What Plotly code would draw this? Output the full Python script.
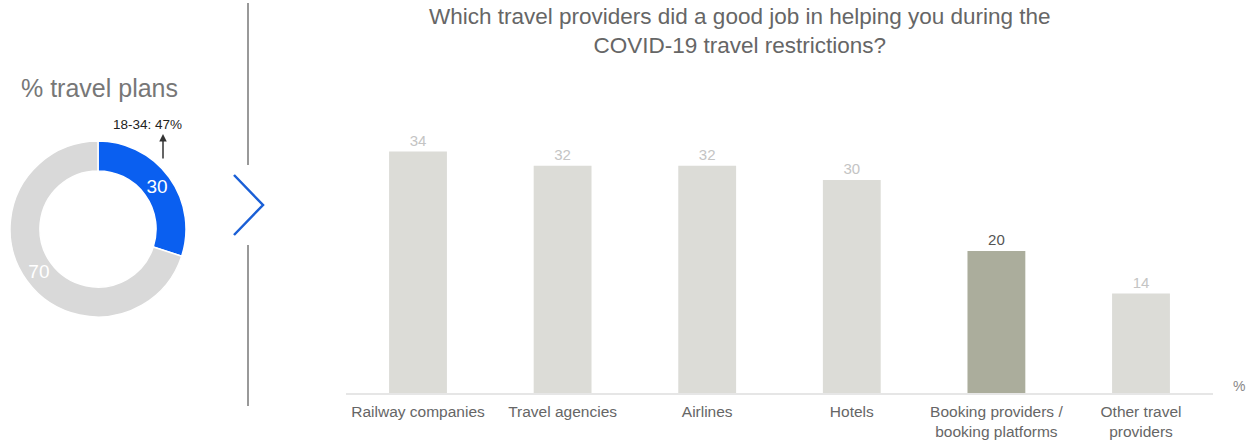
import plotly.graph_objects as go

W, H = 1247, 443

categories = ["Railway companies", "Travel agencies", "Airlines", "Hotels",
              "Booking providers /<br>booking platforms", "Other travel<br>providers"]
values = [34, 32, 32, 30, 20, 14]
bar_colors = ["#dcdcd7", "#dcdcd7", "#dcdcd7", "#dcdcd7", "#abad9c", "#dcdcd7"]
label_colors = ["#c4c4c4", "#c4c4c4", "#c4c4c4", "#c4c4c4", "#555555", "#c4c4c4"]

donut_labels = ["Travel plans", "No travel plans"]
donut_values = [30, 70]
donut_colors = ["#0a5ff0", "#d9d9d9"]

FONT = "Arial, Liberation Sans, sans-serif"


def px(x):
    return x / W


def py(y):
    return 1 - y / H


fig = go.Figure()

fig.add_trace(go.Bar(
    x=categories, y=values,
    marker=dict(color=bar_colors, line=dict(width=0)),
    width=0.4,
    text=[str(v) for v in values],
    textposition="outside",
    textfont=dict(family=FONT, size=15, color=label_colors),
    cliponaxis=False,
    hoverinfo="skip",
    showlegend=False,
))

fig.add_trace(go.Pie(
    labels=donut_labels, values=donut_values,
    hole=0.66, sort=False, direction="clockwise", rotation=0,
    marker=dict(colors=donut_colors, line=dict(color="white", width=1.5)),
    textinfo="value", textposition="inside",
    insidetextorientation="horizontal",
    textfont=dict(family=FONT, size=19, color="white"),
    domain=dict(x=[px(10), px(186)], y=[py(317), py(141)]),
    showlegend=False, hoverinfo="skip",
))

fig.update_layout(
    width=W, height=H,
    margin=dict(l=0, r=0, t=0, b=0),
    paper_bgcolor="white", plot_bgcolor="white",
    font=dict(family=FONT, color="#666666"),
    bargap=0.6,
    xaxis=dict(
        domain=[px(345.7), px(1213.3)],
        showline=True, linecolor="#e6e6e6", linewidth=1.5,
        showgrid=False, zeroline=False, ticks="",
        ticklabelstandoff=4,
        tickfont=dict(family=FONT, size=15.5, color="#666666"),
        fixedrange=True,
    ),
    yaxis=dict(
        domain=[py(393), py(109)],
        range=[0, 40], visible=False, fixedrange=True,
    ),
    annotations=[
        dict(text="Which travel providers did a good job in helping you during the<br>COVID-19 travel restrictions?",
             x=px(740), y=py(31), xref="paper", yref="paper",
             showarrow=False, xanchor="center", yanchor="middle",
             font=dict(family=FONT, size=22.5, color="#666666")),
        dict(text="% travel plans", x=px(19), y=py(88), xref="paper", yref="paper",
             showarrow=False, xanchor="left", yanchor="middle",
             font=dict(family=FONT, size=25, color="#777777")),
        dict(text="18-34: 47%", x=px(147), y=py(124), xref="paper", yref="paper",
             showarrow=False, xanchor="center", yanchor="middle",
             font=dict(family=FONT, size=13.5, color="#222222")),
        dict(text="", x=px(163), y=py(134), xref="paper", yref="paper",
             showarrow=True, arrowhead=2, arrowsize=1, arrowwidth=1.5,
             arrowcolor="#333333", ax=0, ay=26),
        dict(text="%", x=px(1239), y=py(386), xref="paper", yref="paper",
             showarrow=False, xanchor="center", yanchor="middle",
             font=dict(family=FONT, size=14, color="#888888")),
    ],
    shapes=[
        dict(type="line", xref="paper", yref="paper",
             x0=px(248), x1=px(248), y0=py(3), y1=py(165),
             line=dict(color="#777777", width=1.5)),
        dict(type="line", xref="paper", yref="paper",
             x0=px(248), x1=px(248), y0=py(245), y1=py(406),
             line=dict(color="#777777", width=1.5)),
        dict(type="path", xref="paper", yref="paper",
             path=f"M {px(234)},{py(175)} L {px(263)},{py(205)} L {px(234)},{py(235)}",
             line=dict(color="#1a5fd6", width=2.5)),
    ],
)

fig.write_html("out.html",
               config={"displayModeBar": False, "staticPlot": True},
               post_script="document.body.style.margin='0';document.body.style.overflow='hidden';")
